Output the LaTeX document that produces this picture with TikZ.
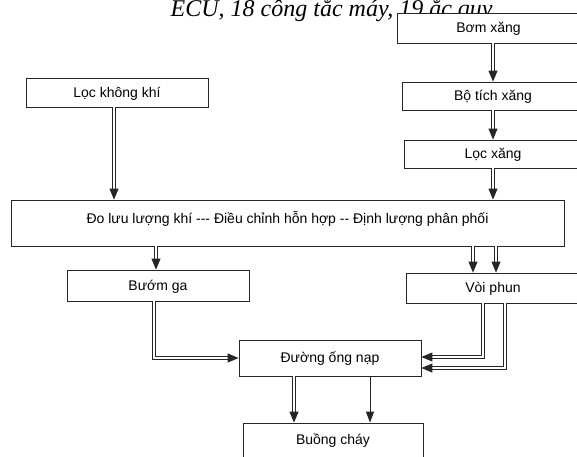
\documentclass[tikz,border=0pt]{standalone}
\usepackage{fontspec}
\setmainfont{Liberation Sans}
\newfontfamily\captionfont{Liberation Serif}
\usetikzlibrary{arrows.meta}
\tikzset{
    % Box style - plain rectangles
    block/.style={
        rectangle,
        draw=black!85,
        line width=0.8pt,
        fill=white,
        align=center,
        inner sep=0pt,
        text height=11pt,
        text depth=2pt,
        font=\fontsize{14}{16}\selectfont
    },
    % Arrow styles
    dblarrow/.style={
        draw=black!85,
        line width=1pt,
        double,
        double distance=2pt,
        -{Triangle[width=9pt,length=11pt]}
    },
    arrow/.style={
        draw=black!85,
        line width=1pt,
        -{Triangle[width=8pt,length=11pt]}
    }
}

\begin{document}
\begin{tikzpicture}[x=1pt, y=-1pt]
    \useasboundingbox (0,0) rectangle (577,456);

    % Caption fragment
    \node[font=\captionfont\itshape\fontsize{24}{26}\selectfont, anchor=base] (caption) at (334,16) {ECU, 18 công tắc máy, 19 ắc quy.};

    % Fuel line
    \node[block, minimum width=183pt, minimum height=30pt] (bom) at (488.5,28) {Bơm xăng};
    \node[block, minimum width=182pt, minimum height=28pt] (botich) at (493,96) {Bộ tích xăng};
    \node[block, minimum width=178pt, minimum height=28pt] (locxang) at (493,154) {Lọc xăng};

    % Air line
    \node[block, minimum width=182pt, minimum height=29pt] (lockk) at (117,92.5) {Lọc không khí};

    % Metering box
    \node[block, minimum width=553pt, minimum height=46pt, text height=9.5pt, text depth=9.5pt] (main) at (287.5,223) {Đo lưu lượng khí -{}-{}- Điều chỉnh hỗn hợp -{}- Định lượng phân phối};

    % Lower row
    \node[block, minimum width=182pt, minimum height=31pt] (bumga) at (158,285.5) {Bướm ga};
    \node[block, minimum width=174pt, minimum height=30pt] (voiphun) at (493,288) {Vòi phun};
    \node[block, minimum width=182pt, minimum height=36pt] (duong) at (330,358) {Đường ống nạp};
    \node[block, minimum width=180pt, minimum height=34pt] (buong) at (333,440) {Buồng cháy};

    % Arrows
    \draw[dblarrow] (bom.south -| botich.north) -- (botich.north);
    \draw[dblarrow] (botich.south) -- (locxang.north);
    \draw[dblarrow] (locxang.south) -- (locxang.south |- main.north);
    \draw[dblarrow] ([xshift=-3pt]lockk.south) -- ([xshift=-3pt]lockk.south |- main.north);
    \draw[dblarrow] ([xshift=-2pt]bumga.north |- main.south) -- ([xshift=-2pt]bumga.north);
    \draw[dblarrow] ([xshift=-20pt]voiphun.north |- main.south) -- ([xshift=-20pt]voiphun.north);
    \draw[dblarrow] ([xshift=3pt]voiphun.north |- main.south) -- ([xshift=3pt]voiphun.north);
    \draw[dblarrow] ([xshift=-4pt]bumga.south) |- (duong.west);
    \draw[dblarrow] ([xshift=-10pt]voiphun.south) |- ([yshift=1pt]duong.east);
    \draw[dblarrow] ([xshift=12pt]voiphun.south) |- ([yshift=-10pt]duong.east);
    \draw[dblarrow] ([xshift=-36pt]duong.south) -- ([xshift=-36pt]duong.south |- buong.north);
    \draw[arrow] ([xshift=40pt]duong.south) -- ([xshift=40pt]duong.south |- buong.north);
\end{tikzpicture}
\end{document}
